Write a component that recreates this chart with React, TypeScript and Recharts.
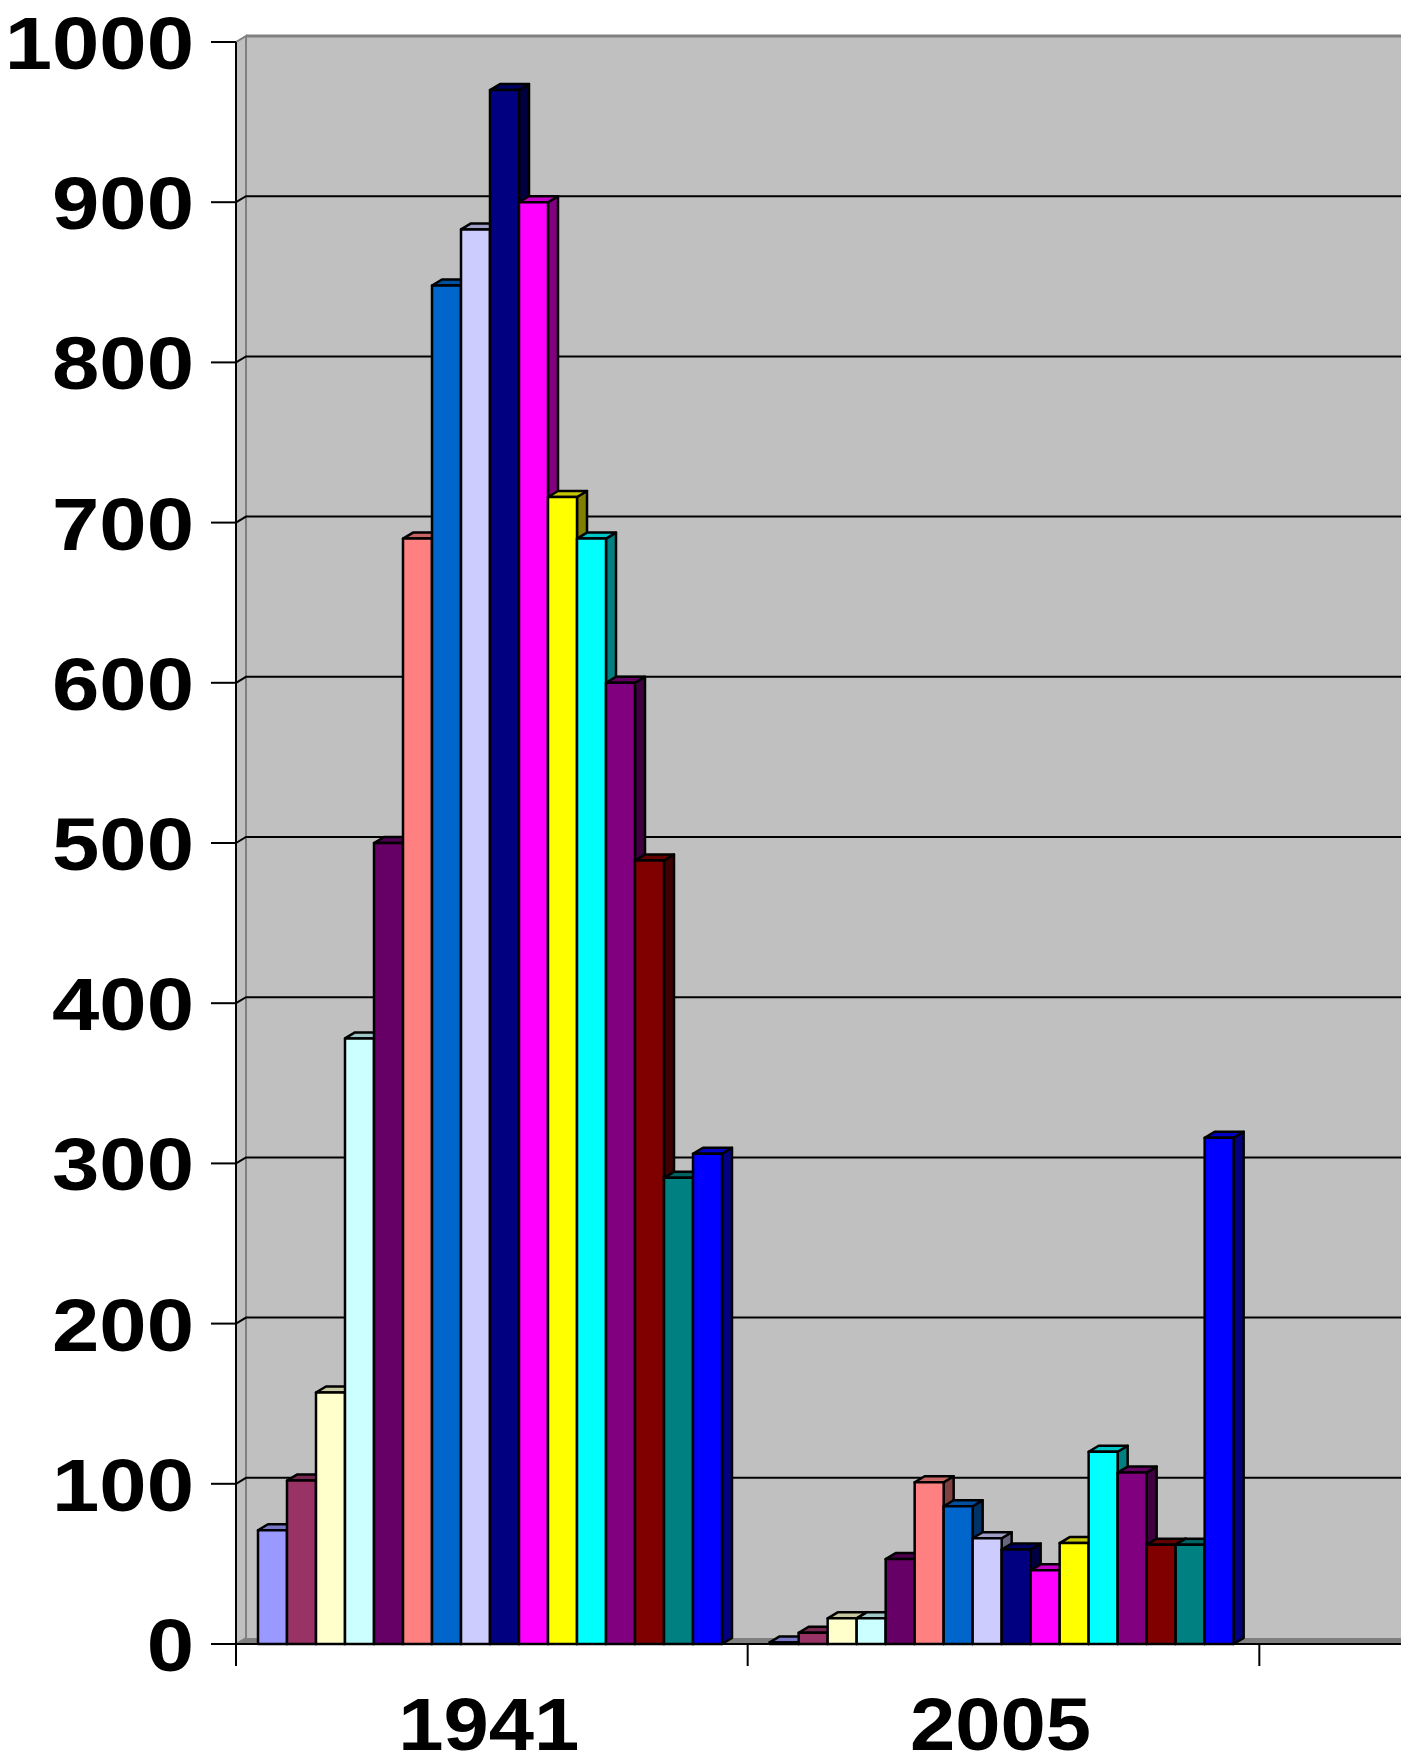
import React from "react";
import { BarChart, Bar, XAxis, YAxis, ReferenceArea, ReferenceLine } from "recharts";

const categories = ["1941", "2005", ""];
const seriesColors = [
  "#9999FF", "#993366", "#FFFFCC", "#CCFFFF", "#660066", "#FF8080", "#0066CC", "#CCCCFF",
  "#000080", "#FF00FF", "#FFFF00", "#00FFFF", "#800080", "#800000", "#008080", "#0000FF",
];
const values1941 = [71, 102, 157, 378, 500, 690, 848, 883, 970, 900, 716, 690, 600, 489, 291, 306];
const values2005 = [1, 7, 16, 16, 53, 101, 86, 66, 59, 46, 63, 120, 107, 62, 62, 316];
const yTicks = [0, 100, 200, 300, 400, 500, 600, 700, 800, 900, 1000];
const gridTicks = [100, 200, 300, 400, 500, 600, 700, 800, 900];

const valuesByCategory = [values1941, values2005, []];

const data = categories.map((cat, ci) => {
  const row: any = { cat };
  seriesColors.forEach((_, si) => {
    const v = valuesByCategory[ci][si];
    row["s" + si] = v === undefined ? null : v;
  });
  return row;
});

// depth of the 3d effect
const DX = 10;
const DY = 6;
const FONT = "'Liberation Sans', Arial, sans-serif";

const shade = (hex: string, f: number) => {
  const n = parseInt(hex.slice(1), 16);
  const r = Math.round(((n >> 16) & 255) * f);
  const g = Math.round(((n >> 8) & 255) * f);
  const b = Math.round((n & 255) * f);
  return `rgb(${r},${g},${b})`;
};

const Bar3D = (props: any) => {
  const { x, y, width, height, fill } = props;
  if (x == null || y == null || !width || height == null) return null;
  const r = x + width;
  const bottom = y + height;
  return (
    <g stroke="#000" strokeWidth={2.5} strokeLinejoin="round">
      <polygon
        points={`${r},${y} ${r + DX},${y - DY} ${r + DX},${bottom - DY} ${r},${bottom}`}
        fill={shade(fill, 0.5)}
      />
      <polygon
        points={`${x},${y} ${x + DX},${y - DY} ${r + DX},${y - DY} ${r},${y}`}
        fill={shade(fill, 0.78)}
      />
      <rect x={x} y={y} width={width} height={height} fill={fill} />
    </g>
  );
};

const Wall = (props: any) => {
  const { x, y, width, height } = props;
  const bottom = y + height;
  const right = x + width + 200;
  return (
    <g>
      <rect x={x + DX} y={y - DY} width={right - x} height={height} fill="#C0C0C0" />
      <polygon
        points={`${x},${y} ${x + DX},${y - DY} ${x + DX},${bottom - DY} ${x},${bottom}`}
        fill="#C0C0C0"
        stroke="#808080"
        strokeWidth={2}
      />
      <line x1={x + DX} y1={y - DY} x2={right} y2={y - DY} stroke="#808080" strokeWidth={3} />
      <polygon
        points={`${x},${bottom} ${x + DX},${bottom - DY} ${right},${bottom - DY} ${right},${bottom}`}
        fill="#808080"
      />
    </g>
  );
};

const GridLine = (props: any) => {
  const { x1, y1, x2 } = props;
  if (x1 == null) return null;
  return (
    <polyline
      points={`${x1},${y1} ${x1 + DX},${y1 - DY} ${x2 + 200},${y1 - DY}`}
      fill="none"
      stroke="#000"
      strokeWidth={2}
    />
  );
};

const ValueTick = ({ x, y, payload }: any) => (
  <text
    transform={`translate(${x},${y + 27}) scale(1.15,1)`}
    textAnchor="end"
    fontSize={74}
    fontWeight="bold"
    fontFamily={FONT}
    fill="#000"
  >
    {payload.value}
  </text>
);

const CategoryTick = ({ x, y, payload }: any) => {
  const half = typeof payload?.offset === "number" && payload.offset > 20 ? payload.offset : 256;
  const left = x - half;
  return (
    <g>
      <line x1={left} y1={y - 22} x2={left} y2={y} stroke="#000" strokeWidth={2} />
      {payload.value !== "" && (
        <text
          transform={`translate(${x - 3},${y + 84}) scale(1.1,1)`}
          textAnchor="middle"
          fontSize={74}
          fontWeight="bold"
          fontFamily={FONT}
          fill="#000"
        >
          {payload.value}
        </text>
      )}
    </g>
  );
};

export default function App() {
  return (
    <div
      style={{
        position: "absolute",
        left: 0,
        top: 0,
        width: 1401,
        height: 1760,
        overflow: "hidden",
        background: "#fff",
      }}
    >
      <BarChart
        width={1800}
        height={1760}
        data={data}
        margin={{ top: 42, right: 29, left: 0, bottom: 0 }}
        barCategoryGap={22}
        barGap={0}
      >
        <ReferenceArea y1={0} y2={1000} shape={Wall} zIndex={-90} ifOverflow="visible" />
        {gridTicks.map((t) => (
          <ReferenceLine key={t} y={t} shape={GridLine} zIndex={-80} />
        ))}
        <XAxis
          dataKey="cat"
          height={116}
          interval={0}
          tickSize={22}
          tickMargin={0}
          tickLine={false}
          axisLine={{ stroke: "#000", strokeWidth: 2 }}
          tick={<CategoryTick />}
        />
        <YAxis
          width={236}
          domain={[0, 1000]}
          ticks={yTicks}
          interval={0}
          tickSize={25}
          tickMargin={17}
          axisLine={{ stroke: "#000", strokeWidth: 2 }}
          tickLine={{ stroke: "#000", strokeWidth: 2 }}
          tick={<ValueTick />}
        />
        {seriesColors.map((c, i) => (
          <Bar
            key={i}
            dataKey={"s" + i}
            fill={c}
            shape={Bar3D}
            isAnimationActive={false}
          />
        ))}
      </BarChart>
    </div>
  );
}
